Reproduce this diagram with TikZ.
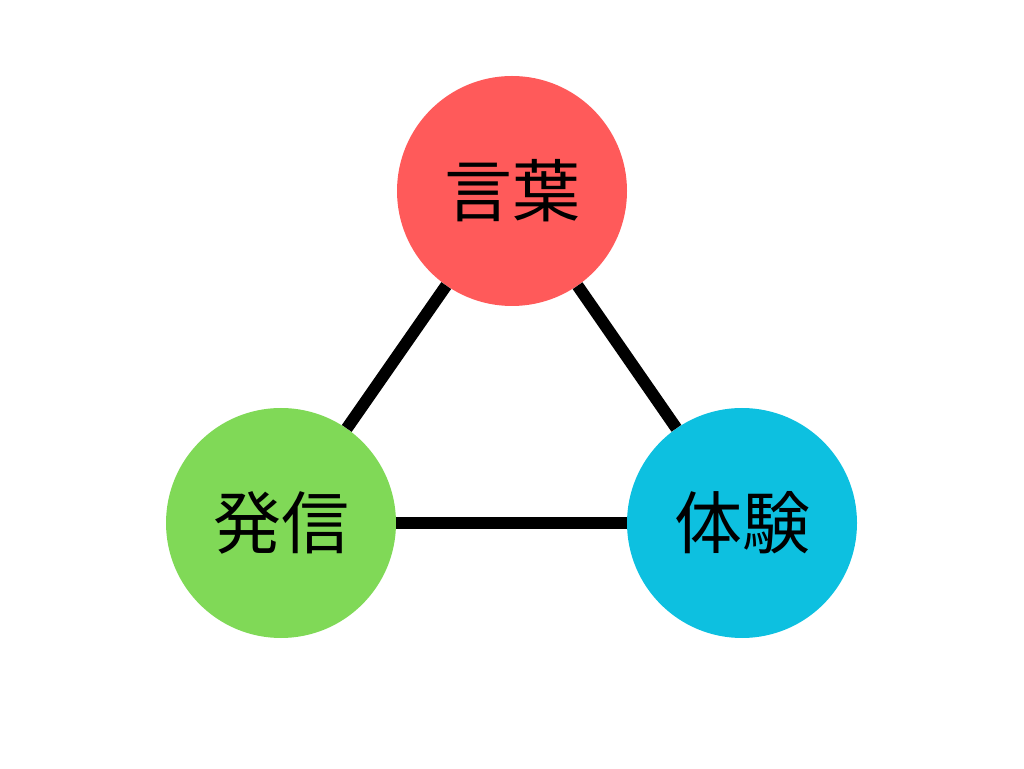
\documentclass[tikz,border=0pt]{standalone}
\usepackage{fontspec}
\newfontfamily\cjk{Noto Sans CJK JP}
\definecolor{kotoba}{HTML}{FF5A5A}
\definecolor{hasshin}{HTML}{80D957}
\definecolor{taiken}{HTML}{0DC0E0}
\tikzset{
  ball/.style={
    circle,
    fill=#1,
    minimum size=230pt,
    inner sep=0pt,
    font=\cjk\fontsize{68}{68}\selectfont,
  },
  link/.style={
    line width=12pt,
  }
}
\begin{document}
\begin{tikzpicture}[x=1pt,y=1pt]
    \useasboundingbox (0,0) rectangle (1024,768);
    \node [ball=kotoba] (kotoba) at (512,577) {言葉};
    \node [ball=hasshin] (hasshin) at (281,245) {発信};
    \node [ball=taiken] (taiken) at (742,245) {体験};

    \draw [link] (kotoba) -- (hasshin);
    \draw [link] (kotoba) -- (taiken);
    \draw [link] (hasshin) -- (taiken);
\end{tikzpicture}
\end{document}
